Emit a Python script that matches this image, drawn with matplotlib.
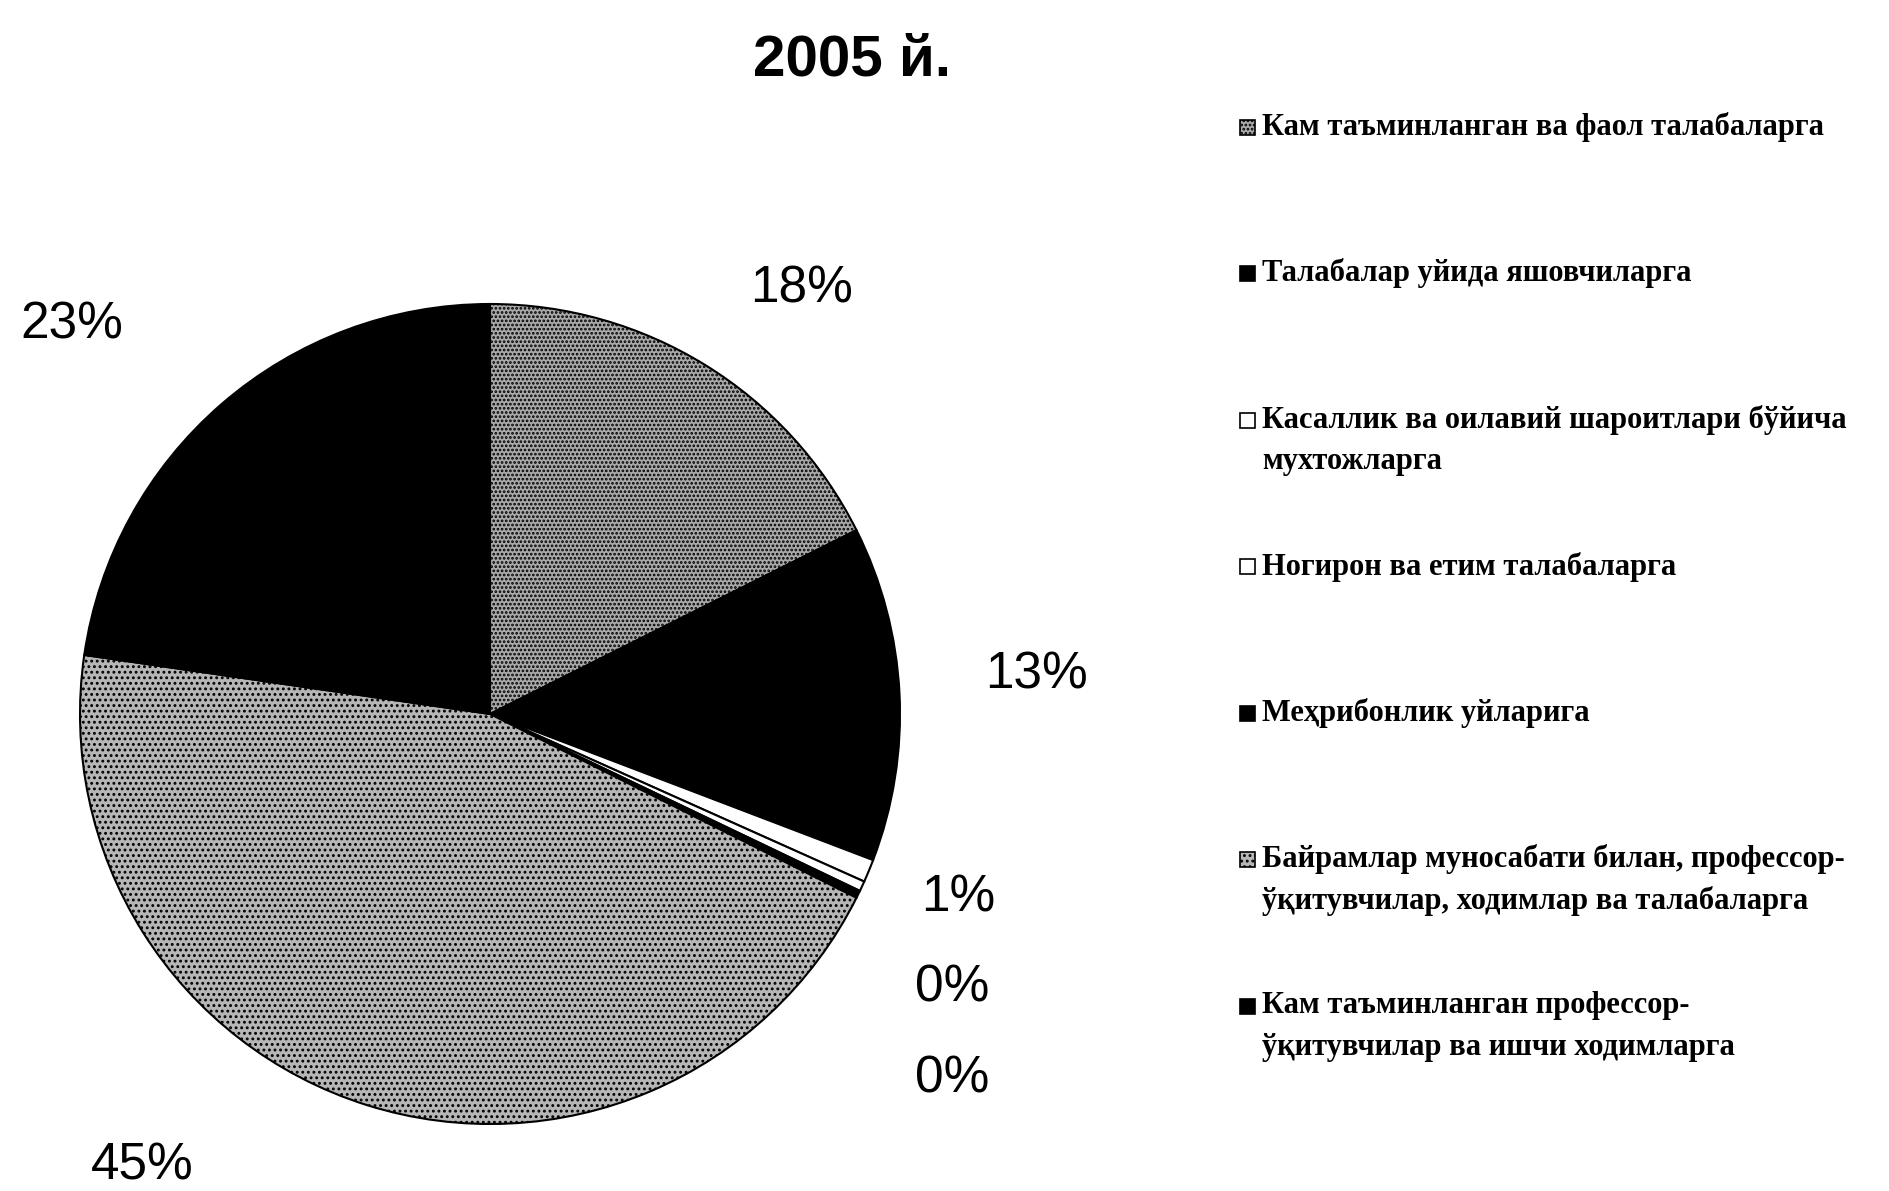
import matplotlib
matplotlib.use("Agg")
import matplotlib.pyplot as plt
from matplotlib.patches import Rectangle

# ---- data ----
title = "2005 й."
categories = [
    "Кам таъминланган ва фаол талабаларга",
    "Талабалар уйида яшовчиларга",
    "Касаллик ва оилавий шароитлари бўйича\nмухтожларга",
    "Ногирон ва етим талабаларга",
    "Меҳрибонлик уйларига",
    "Байрамлар муносабати билан, профессор-\nўқитувчилар, ходимлар ва талабаларга",
    "Кам таъминланган профессор-\nўқитувчилар ва ишчи ходимларга",
]
values = [17.6, 13.2, 0.9, 0.4, 0.3, 44.9, 22.7]
pct_labels = [f"{round(v)}%" for v in values]

# ---- styles ----
colors = ["#a9a9a9", "#000000", "#ffffff", "#ffffff", "#000000", "#b6b6b6", "#000000"]
hatches = ["....", None, None, None, None, "...", None]
# label positions in figure pixels (x, y from top)
label_px = [(802, 289), (1037, 675), (958, 898), (952, 988), (952, 1079), (142, 1166), (72, 325)]

W, H = 1890, 1191
fig = plt.figure(figsize=(W / 100, H / 100), dpi=100)
fig.patch.set_facecolor("white")
plt.rcParams["hatch.linewidth"] = 1.3

# pie axes: center ~ (490, 714) px, radius ~ 410 px
cx, cy, r = 490, 714, 410
ax = fig.add_axes([(cx - r) / W, 1 - (cy + r) / H, 2 * r / W, 2 * r / H])
wedges, _ = ax.pie(values, colors=colors, startangle=90, counterclock=False,
                   wedgeprops=dict(edgecolor="black", linewidth=1.5))
for w, h in zip(wedges, hatches):
    if h:
        w.set_hatch(h)
ax.set_xlim(-1.0, 1.0)
ax.set_ylim(-1.0, 1.0)
ax.set_aspect("equal")
ax.axis("off")

for txt, (x, y) in zip(pct_labels, label_px):
    fig.text(x / W, 1 - y / H, txt, ha="center", va="center",
             fontsize=37, family="Liberation Sans", color="black")

fig.text(852 / W, 1 - 60 / H, title, ha="center", va="center",
         fontsize=42, fontweight="bold", family="Liberation Sans")

# ---- legend: entries on a fixed vertical step, marker on first line ----
leg_x_marker, leg_x_text = 1240, 1262
leg_y0, leg_step, line_gap = 127, 146.5, 42
msize = 15
for i, (lab, w) in enumerate(zip(categories, wedges)):
    y = leg_y0 + i * leg_step
    rect = Rectangle(((leg_x_marker) / W, 1 - (y + msize / 2) / H), msize / W, msize / H,
                     transform=fig.transFigure, facecolor=w.get_facecolor(),
                     edgecolor="black", linewidth=1.2, hatch=w.get_hatch())
    fig.add_artist(rect)
    for j, line in enumerate(lab.split("\n")):
        fig.text(leg_x_text / W, 1 - (y + j * line_gap) / H, line, ha="left", va="center",
                 fontsize=22, fontweight="bold", family="Liberation Serif")

fig.savefig("out.png", dpi=100, facecolor="white")
